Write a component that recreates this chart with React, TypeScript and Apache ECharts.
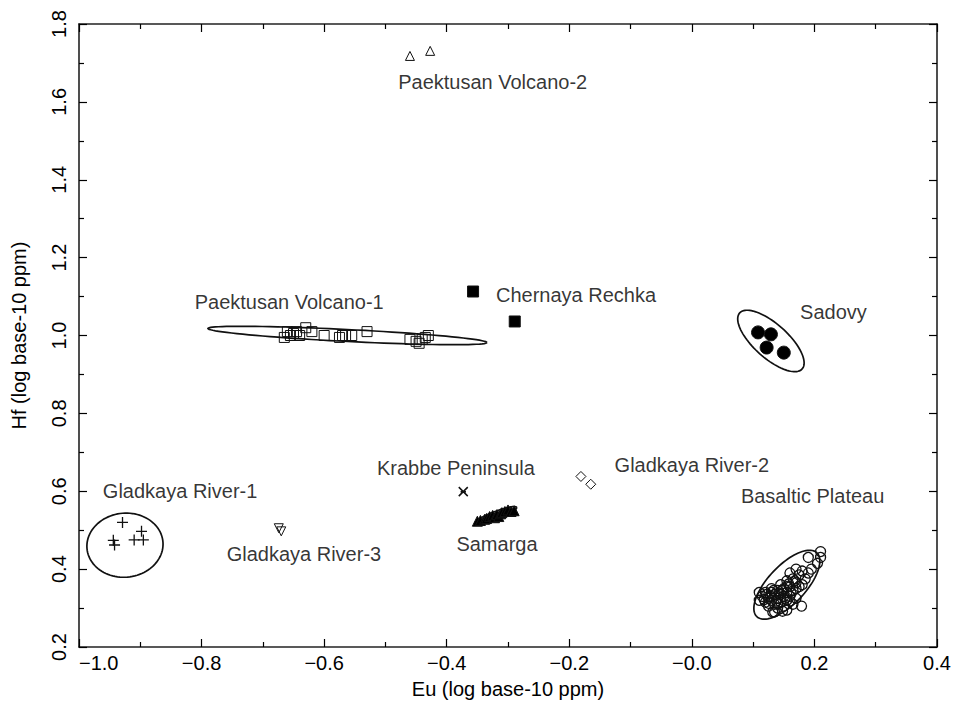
import React, { useEffect, useRef } from 'react';
import * as echarts from 'echarts';

// ---- axes ----
const xRange = [-1.0, 0.4];
const yRange = [0.2, 1.8];
const tickStep = 0.2;

// ---- groups (x = Eu, y = Hf) ----
const paektusan1: [number, number][] = [
  [-0.665, 0.995], [-0.66, 1.01], [-0.655, 1.0], [-0.65, 1.005], [-0.645, 1.01],
  [-0.64, 1.0], [-0.63, 1.02], [-0.62, 1.01], [-0.6, 1.0], [-0.575, 0.995],
  [-0.57, 1.0], [-0.565, 1.0], [-0.555, 1.0], [-0.53, 1.01], [-0.46, 0.99],
  [-0.45, 0.985], [-0.445, 0.98], [-0.44, 0.99], [-0.435, 0.995], [-0.43, 1.0],
];
const paektusan2: [number, number][] = [[-0.46, 1.718], [-0.427, 1.731]];
const chernaya: [number, number][] = [[-0.357, 1.113], [-0.289, 1.036]];
const sadovy: [number, number][] = [[0.108, 1.008], [0.129, 1.003], [0.122, 0.969], [0.15, 0.956]];
const gladkaya1: [number, number][] = [
  [-0.929, 0.52], [-0.944, 0.474], [-0.942, 0.462], [-0.898, 0.497], [-0.91, 0.475], [-0.895, 0.475],
];
const gladkaya2: [number, number][] = [[-0.181, 0.638], [-0.165, 0.618]];
const gladkaya3: [number, number][] = [[-0.674, 0.505], [-0.67, 0.497]];
const krabbe: [number, number][] = [[-0.373, 0.599]];
const samarga: [number, number][] = [
  [-0.35, 0.523], [-0.345, 0.525], [-0.338, 0.528], [-0.335, 0.53], [-0.33, 0.535],
  [-0.325, 0.538], [-0.322, 0.532], [-0.318, 0.54], [-0.315, 0.535], [-0.312, 0.542],
  [-0.31, 0.545], [-0.305, 0.548], [-0.3, 0.552], [-0.295, 0.548], [-0.29, 0.55],
];
const basaltic: [number, number][] = [
  [0.21, 0.445], [0.21, 0.43], [0.19, 0.43], [0.205, 0.415], [0.195, 0.4],
  [0.17, 0.4], [0.18, 0.395], [0.16, 0.39], [0.175, 0.385], [0.19, 0.39],
  [0.185, 0.375], [0.165, 0.375], [0.155, 0.37], [0.17, 0.365], [0.18, 0.36],
  [0.145, 0.36], [0.16, 0.355], [0.15, 0.35], [0.13, 0.35], [0.14, 0.345],
  [0.155, 0.34], [0.165, 0.345], [0.12, 0.34], [0.135, 0.335], [0.15, 0.33],
  [0.16, 0.33], [0.125, 0.325], [0.14, 0.325], [0.115, 0.33], [0.13, 0.32],
  [0.145, 0.315], [0.155, 0.32], [0.12, 0.315], [0.135, 0.31], [0.11, 0.32],
  [0.125, 0.305], [0.14, 0.3], [0.15, 0.305], [0.165, 0.31], [0.17, 0.325],
  [0.145, 0.335], [0.13, 0.34], [0.155, 0.355], [0.17, 0.35], [0.135, 0.29],
  [0.155, 0.295], [0.179, 0.305], [0.148, 0.292], [0.132, 0.29], [0.11, 0.34],
  [0.128, 0.33], [0.138, 0.318], [0.142, 0.338], [0.152, 0.325], [0.118, 0.322],
  [0.126, 0.312], [0.162, 0.338], [0.147, 0.345], [0.158, 0.362], [0.168, 0.37],
  [0.175, 0.355], [0.122, 0.335], [0.133, 0.345], [0.14, 0.31], [0.16, 0.318],
];

// ---- confidence ellipses: [cx, cy, ax, ay, bx, by] (centre, semi-axis vectors) ----
const ellipsePaektusan1 = [-0.562, 1.0, 0.2276, -0.018, -0.0005, 0.0154];
const ellipseSadovy = [0.129, 0.986, 0.0509, -0.072, 0.0186, 0.0323];
const ellipseGladkaya1 = [-0.925, 0.4615, 0.062, 0.008, -0.004, 0.082];
const ellipseSamarga = [-0.32, 0.538, 0.034, 0.0205, 0.0023, -0.0095];
const ellipseBasaltic = [0.155, 0.36, 0.0489, 0.0821, 0.0225, -0.033];

// ---- group labels: [name, x, y] ----
const labelNames = [
  'Paektusan Volcano-2', 'Paektusan Volcano-1', 'Chernaya Rechka', 'Sadovy',
  'Krabbe Peninsula', 'Gladkaya River-2', 'Gladkaya River-1', 'Gladkaya River-3',
  'Samarga', 'Basaltic Plateau',
];
const labelX = [-0.325, -0.657, -0.189, 0.231, -0.385, 0.0, -0.835, -0.633, -0.318, 0.197];
const labelY = [1.651, 1.085, 1.103, 1.0615, 0.659, 0.667, 0.6, 0.438, 0.464, 0.587];

const FONT = 'Liberation Sans, Arial, Helvetica, sans-serif';
const INK = '#000';

const fmtX = (v: number) => {
  if (Math.abs(v) < 1e-9) return '\u22120.0';
  return (v < 0 ? '\u2212' : '') + Math.abs(v).toFixed(1);
};

function scatter(name: string, data: [number, number][], symbol: string, size: number, filled: boolean, bw = 1) {
  return {
    type: 'scatter',
    name,
    data,
    symbol,
    symbolSize: size,
    z: 3,
    silent: true,
    itemStyle: {
      color: filled ? INK : 'rgba(0,0,0,0)',
      borderColor: '#111',
      borderWidth: bw,
      opacity: 1,
    },
  };
}

const tickStyle = { color: INK, width: 1.2 };
const lineStyle = { color: '#222', width: 1.6 };

const option: any = {
  animation: false,
  backgroundColor: '#fff',
  grid: { left: 79, right: 21, top: 24, bottom: 56, containLabel: false },
  xAxis: [
    {
      type: 'value',
      min: xRange[0],
      max: xRange[1],
      interval: tickStep,
      name: 'Eu (log base-10 ppm)',
      nameLocation: 'middle',
      nameGap: 32,
      nameTextStyle: { fontFamily: FONT, fontSize: 20, color: INK },
      axisLine: { show: true, onZero: false, lineStyle },
      axisTick: { show: true, inside: true, length: 8, lineStyle: tickStyle },
      minorTick: { show: true, splitNumber: 2, length: 5, lineStyle: tickStyle },
      splitLine: { show: false },
      axisLabel: {
        formatter: fmtX,
        fontFamily: FONT,
        fontSize: 20,
        color: INK,
        margin: 6,
        showMinLabel: true,
        showMaxLabel: true,
        alignMinLabel: 'left',
      },
    },
    {
      type: 'value',
      position: 'top',
      min: xRange[0],
      max: xRange[1],
      interval: tickStep,
      axisLine: { show: true, onZero: false, lineStyle },
      axisTick: { show: true, inside: true, length: 8, lineStyle: tickStyle },
      minorTick: { show: true, splitNumber: 2, length: 5, lineStyle: tickStyle },
      splitLine: { show: false },
      axisLabel: { show: false },
    },
  ],
  yAxis: [
    {
      type: 'value',
      min: yRange[0],
      max: yRange[1],
      interval: tickStep,
      name: 'Hf (log base-10 ppm)',
      nameLocation: 'middle',
      nameGap: 50,
      nameRotate: 90,
      nameTextStyle: { fontFamily: FONT, fontSize: 20, color: INK },
      axisLine: { show: true, onZero: false, lineStyle },
      axisTick: { show: true, inside: true, length: 8, lineStyle: tickStyle },
      minorTick: { show: true, splitNumber: 2, length: 5, lineStyle: tickStyle },
      splitLine: { show: false },
      axisLabel: {
        rotate: 90,
        formatter: (v: number) => v.toFixed(1),
        fontFamily: FONT,
        fontSize: 20,
        color: INK,
        margin: 10,
        showMinLabel: true,
        showMaxLabel: true,
      },
    },
    {
      type: 'value',
      position: 'right',
      min: yRange[0],
      max: yRange[1],
      interval: tickStep,
      axisLine: { show: true, onZero: false, lineStyle },
      axisTick: { show: true, inside: true, length: 8, lineStyle: tickStyle },
      minorTick: { show: true, splitNumber: 2, length: 5, lineStyle: tickStyle },
      splitLine: { show: false },
      axisLabel: { show: false },
    },
  ],
  series: [
    {
      type: 'custom',
      name: 'ellipses',
      coordinateSystem: 'cartesian2d',
      silent: true,
      z: 2,
      data: [ellipsePaektusan1, ellipseSadovy, ellipseGladkaya1, ellipseSamarga, ellipseBasaltic],
      encode: { x: 0, y: 1 },
      renderItem: (params: any, api: any) => {
        const cx = api.value(0), cy = api.value(1);
        const ax = api.value(2), ay = api.value(3);
        const bx = api.value(4), by = api.value(5);
        const pts: number[][] = [];
        const n = 96;
        for (let i = 0; i <= n; i++) {
          const t = (i / n) * Math.PI * 2;
          const c = Math.cos(t), s = Math.sin(t);
          pts.push(api.coord([cx + ax * c + bx * s, cy + ay * c + by * s]));
        }
        return {
          type: 'polyline',
          shape: { points: pts },
          style: { fill: 'none', stroke: '#111', lineWidth: 1.7 },
        };
      },
    },
    scatter('Paektusan Volcano-1', paektusan1, 'rect', 10, false),
    scatter('Paektusan Volcano-2', paektusan2, 'triangle', 9, false),
    scatter('Chernaya Rechka', chernaya, 'rect', 11, true),
    scatter('Sadovy', sadovy, 'circle', 13, true),
    scatter('Gladkaya River-1', gladkaya1, 'path://M5,0L5,10M0,5L10,5', 11, false, 1.3),
    scatter('Gladkaya River-2', gladkaya2, 'diamond', 10, false),
    scatter('Gladkaya River-3', gladkaya3, 'path://M0,0L10,0L5,9Z', 9, false),
    scatter('Krabbe Peninsula', krabbe, 'path://M0,0L10,10M10,0L0,10M2,5L8,5', 9, false, 1.5),
    scatter('Samarga', samarga, 'triangle', 10, true),
    scatter('Basaltic Plateau', basaltic, 'circle', 10, false, 1.3),
    {
      type: 'scatter',
      name: 'labels',
      silent: true,
      z: 5,
      symbolSize: 1,
      itemStyle: { color: 'rgba(0,0,0,0)' },
      data: labelNames.map((nm, i) => ({ name: nm, value: [labelX[i], labelY[i]] })),
      label: {
        show: true,
        position: 'inside',
        formatter: (p: any) => p.name,
        fontFamily: FONT,
        fontSize: 20,
        color: INK,
      },
    },
  ],
};

export default function App() {
  const ref = useRef<HTMLDivElement>(null);
  useEffect(() => {
    if (!ref.current) return;
    const chart = echarts.init(ref.current, null, { renderer: 'svg' });
    chart.setOption(option);
    return () => chart.dispose();
  }, []);
  return (
    <div
      ref={ref}
      style={{ position: 'fixed', left: 0, top: 0, width: 958, height: 704, background: '#fff' }}
    />
  );
}
